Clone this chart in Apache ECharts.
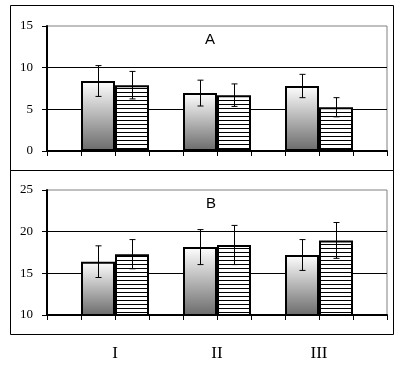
<!DOCTYPE html>
<html>
<head>
<meta charset="utf-8">
<script src="https://cdn.jsdelivr.net/npm/echarts@6/dist/echarts.min.js"></script>
<style>
  html, body { margin: 0; padding: 0; background: #fff; }
  #chart { width: 402px; height: 365px; }
</style>
</head>
<body>
<div id="chart"></div>
<script>
// data
const categories = ['I', 'II', 'III']

const meanA1 = [8.4, 6.95, 7.8]
const errA1 = [1.85, 1.55, 1.4]
const meanA2 = [7.9, 6.7, 5.25]
const errA2 = [1.65, 1.35, 1.15]

const meanB1 = [16.4, 18.15, 17.2]
const errB1 = [1.9, 2.1, 1.85]
const meanB2 = [17.3, 18.4, 18.95]
const errB2 = [1.75, 2.35, 2.15]

const yRangeA = [0, 15]
const yRangeB = [10, 25]

const serif = '"Liberation Serif", "Times New Roman", serif'
const sans = '"Liberation Sans", Arial, sans-serif'

// striped fill for the second bar
const stripe = document.createElement('canvas')
stripe.width = 4
stripe.height = 4
const sctx = stripe.getContext('2d')
sctx.fillStyle = '#fff'
sctx.fillRect(0, 0, 4, 4)
sctx.fillStyle = '#000'
sctx.fillRect(0, 0, 4, 1)

const gradFill = {
  type: 'linear', x: 0, y: 0, x2: 0, y2: 1,
  colorStops: [
    { offset: 0, color: '#ffffff' },
    { offset: 1, color: '#6a6a6a' }
  ]
}

const BAR_W = 34

function outerX(gridIndex) {
  return {
    type: 'value', gridIndex, min: 0, max: 10, interval: 1,
    axisLine: { show: true, onZero: false, lineStyle: { color: '#000', width: 2 } },
    axisTick: { show: true, length: 5, lineStyle: { color: '#000', width: 1 } },
    axisLabel: { show: false },
    splitLine: { show: false }
  }
}

function outerY(gridIndex, range) {
  return {
    type: 'value', gridIndex, min: range[0], max: range[1], interval: 5,
    axisLine: { show: true, lineStyle: { color: '#000', width: 2 } },
    axisTick: { show: true, length: 5, lineStyle: { color: '#000', width: 1 } },
    axisLabel: { color: '#000', fontSize: 13, fontFamily: serif, margin: 14 },
    splitLine: { show: true, showMaxLine: false, showMinLine: false, lineStyle: { color: '#000', width: 1 } }
  }
}

function innerX(gridIndex, showLabels) {
  return {
    type: 'category', gridIndex, data: categories,
    axisLine: { show: false },
    axisTick: { show: false },
    axisLabel: { show: showLabels, color: '#000', fontSize: 17, fontFamily: serif, margin: 30 },
    splitLine: { show: false }
  }
}

function innerY(gridIndex, range) {
  return { type: 'value', gridIndex, min: range[0], max: range[1], show: false }
}

function barSeries(axisIdx, values, fill) {
  return {
    type: 'bar', xAxisIndex: axisIdx, yAxisIndex: axisIdx,
    data: values, barWidth: BAR_W, barGap: '0%',
    itemStyle: { color: fill, borderColor: '#000', borderWidth: 2 },
    silent: true, z: 3
  }
}

function errorSeries(axisIdx, means, errs, offset) {
  return {
    type: 'custom', xAxisIndex: axisIdx, yAxisIndex: axisIdx, z: 5, silent: true,
    data: means.map((m, i) => [i, m - errs[i], m + errs[i]]),
    renderItem: (params, api) => {
      const lo = api.coord([api.value(0), api.value(1)])
      const hi = api.coord([api.value(0), api.value(2)])
      const x = Math.round(lo[0] + offset) + 0.5
      const style = { stroke: '#000', lineWidth: 1 }
      return {
        type: 'group',
        children: [
          { type: 'line', shape: { x1: x, y1: hi[1], x2: x, y2: lo[1] }, style },
          { type: 'line', shape: { x1: x - 3, y1: hi[1], x2: x + 3, y2: hi[1] }, style },
          { type: 'line', shape: { x1: x - 3, y1: lo[1], x2: x + 3, y2: lo[1] }, style }
        ]
      }
    }
  }
}

const myChart = echarts.init(document.getElementById('chart'), null, { renderer: 'canvas' })

const option = {
  animation: false,
  backgroundColor: '#fff',
  grid: [
    { left: 47, top: 26, width: 340, height: 125, show: true, borderColor: '#808080', borderWidth: 1, backgroundColor: 'transparent' },
    { left: 64, top: 26, width: 306, height: 125 },
    { left: 47, top: 190, width: 340, height: 125, show: true, borderColor: '#808080', borderWidth: 1, backgroundColor: 'transparent' },
    { left: 64, top: 190, width: 306, height: 125 }
  ],
  xAxis: [outerX(0), innerX(1, false), outerX(2), innerX(3, true)],
  yAxis: [outerY(0, yRangeA), innerY(1, yRangeA), outerY(2, yRangeB), innerY(3, yRangeB)],
  graphic: [
    { type: 'rect', shape: { x: 10.5, y: 5.5, width: 383, height: 165 }, style: { fill: 'none', stroke: '#000', lineWidth: 1 }, z: 0 },
    { type: 'rect', shape: { x: 10.5, y: 170.5, width: 383, height: 164 }, style: { fill: 'none', stroke: '#000', lineWidth: 1 }, z: 0 },
    { type: 'text', x: 210, y: 40, style: { text: 'A', fontSize: 15, fontFamily: sans, fill: '#000', align: 'center', verticalAlign: 'middle' }, z: 10 },
    { type: 'text', x: 211, y: 204, style: { text: 'B', fontSize: 15, fontFamily: sans, fill: '#000', align: 'center', verticalAlign: 'middle' }, z: 10 }
  ],
  series: [
    barSeries(1, meanA1, gradFill),
    barSeries(1, meanA2, { image: stripe, repeat: 'repeat' }),
    errorSeries(1, meanA1, errA1, -BAR_W / 2),
    errorSeries(1, meanA2, errA2, BAR_W / 2),
    barSeries(3, meanB1, gradFill),
    barSeries(3, meanB2, { image: stripe, repeat: 'repeat' }),
    errorSeries(3, meanB1, errB1, -BAR_W / 2),
    errorSeries(3, meanB2, errB2, BAR_W / 2)
  ]
}

myChart.setOption(option)
</script>
</body>
</html>
